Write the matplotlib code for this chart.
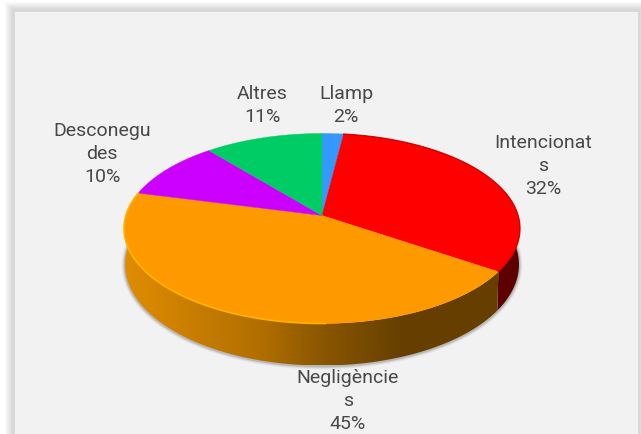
import numpy as np
import matplotlib
matplotlib.use('Agg')
import matplotlib.pyplot as plt
from matplotlib.colors import LinearSegmentedColormap
from matplotlib.patches import Polygon, Rectangle, PathPatch
from matplotlib.path import Path

categories = ['Llamp', 'Intencionats', 'Negligències', 'Desconegudes', 'Altres']
values = [2, 32.4, 44.6, 10, 11]
labels = ['Llamp\n2%', 'Intencionat\ns\n32%', 'Negligèncie\ns\n45%', 'Desconegu\ndes\n10%', 'Altres\n11%']
colors = ['#3399ff', '#ff0000', '#ff9900', '#cc00ff', '#00cc66']
label_pos = [(346, 105.5), (543, 166), (348, 401), (102, 154), (262, 105.5)]

# pie geometry in pixels, the disc is drawn with a small perspective
cx, apex_y = 322, 216.5
persp, sy, sx = 0.1368, 93.2, 196.1


def top_point(t):
    u, v = np.sin(t), np.cos(t)
    w = 1 + persp * v
    return cx + sx * u / w, apex_y - sy * v / w


def bottom_point(t):
    x, y = top_point(t)
    return cx + (x - cx) * 0.995, y + 36 + 6 * (y - 229) / 95


fig = plt.figure(figsize=(6.41, 4.35), dpi=100)
ax = fig.add_axes([0, 0, 1, 1])
ax.axis('off')

# panel with soft shadow
for i in range(9, 0, -1):
    ax.add_patch(Rectangle((14 - i, 12 - i), 624 + i + min(i, 3), 440, color='#000000', alpha=0.018, lw=0))
ax.add_patch(Rectangle((13, 11), 626, 440, facecolor='#d9d9d9', lw=0))
ax.add_patch(Rectangle((15, 13), 623, 440, facecolor='#f2f2f2', lw=0))

edges = 2 * np.pi * np.cumsum([0] + values) / sum(values)
arcs = [np.linspace(edges[i], edges[i + 1], 120) for i in range(len(values))]

# shadow under the side wall
tw = np.linspace(edges[1], edges[3], 300)
bx, by = bottom_point(tw)
for lw, a in [(5, 0.06), (3.5, 0.1), (2, 0.2)]:
    ax.plot(bx, by + 0.5, color='#444444', lw=lw, alpha=a, solid_capstyle='round')

# side walls, only these two can be seen
wall_cmaps = {
    1: LinearSegmentedColormap.from_list('r', ['#6a0000', '#5c0000']),
    2: LinearSegmentedColormap.from_list('o', [(0, '#e08c00'), (0.35, '#b06e00'), (0.5, '#8a5600'), (0.7, '#663f00'), (1, '#663f00')]),
}
for i, cmap in wall_cmaps.items():
    t = arcs[i]
    x1, y1 = top_point(t)
    x2, y2 = bottom_point(t)
    verts = np.column_stack([np.r_[x1, x2[::-1]], np.r_[y1, y2[::-1]]])
    path = Path(np.r_[verts, verts[:1]], closed=True)
    clip = PathPatch(path, transform=ax.transData, facecolor='none', lw=0)
    ax.add_patch(clip)
    grad = np.linspace(0, 1, 256)[None, :]
    im = ax.imshow(grad, cmap=cmap, extent=(124, 522, verts[:, 1].max(), verts[:, 1].min()),
                   aspect='auto', zorder=2, interpolation='bilinear')
    im.set_clip_path(clip)
ax.set_xlim(0, 641)
ax.set_ylim(435, 0)

# top face
for t, c in zip(arcs, colors):
    x, y = top_point(t)
    ax.add_patch(Polygon(np.column_stack([np.r_[cx, x], np.r_[apex_y, y]]), facecolor=c, edgecolor=c, lw=0.3, zorder=3))

# bevel on the rim, bright on the front left only
x, y = top_point(arcs[2])
keep = x < 330
ax.plot(x[keep], y[keep], color='#ffb400', lw=1.3, zorder=4, alpha=0.9)
x, y = top_point(arcs[1])
ax.plot(x, y, color='#c80000', lw=1.0, zorder=4, alpha=0.8)

for text, (lx, ly) in zip(labels, label_pos):
    ax.text(lx, ly, text, ha='center', va='center', fontsize=14, color='#484848',
            family='Roboto', linespacing=1.36, zorder=5)

fig.savefig('out.png', dpi=100)
